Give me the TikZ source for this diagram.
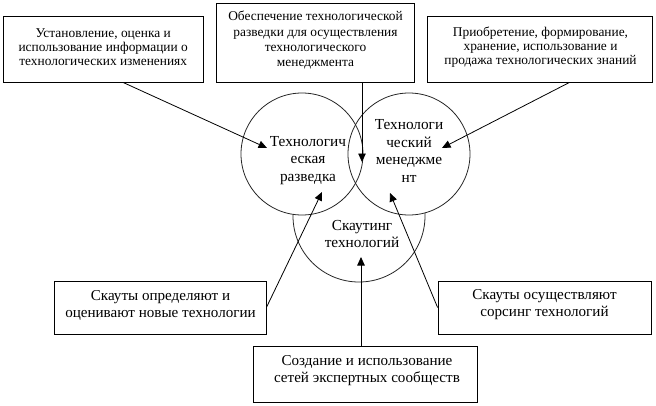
\documentclass[tikz,border=0pt]{standalone}
\usepackage{fontspec}
\setmainfont{Liberation Serif}
\usetikzlibrary{arrows.meta,calc}
\begin{document}
\begin{tikzpicture}[x=1pt,y=-1pt,
  box/.style={draw=black, line width=0.8pt, inner sep=0pt},
  btext/.style={align=center, inner sep=0pt},
  smalltext/.style={font=\fontsize{13.4}{14}\selectfont},
  midtext/.style={font=\fontsize{13.4}{15.3}\selectfont},
  bigtext/.style={font=\fontsize{15.1}{17}\selectfont},
  circ/.style={draw=black!85, line width=0.8pt, circle, inner sep=0pt},
  ctext/.style={align=center, inner sep=0pt, font=\fontsize{15.3}{17.5}\selectfont},
  arr/.style={line width=0.8pt, -{Triangle[length=8.5pt,width=7.5pt]}}]
\useasboundingbox (0,0) rectangle (656,405);

% circles
\node[circ, minimum size=132pt] (cb) at (359,216) {};
\fill[white] (302,154) circle (61);
\fill[white] (409,154) circle (61);
\node[circ, minimum size=122pt] (cl) at (302,154) {};
\node[circ, minimum size=122pt] (cr) at (409,154) {};

\node[ctext] (tl) at (308,160.3) {Технологич\\еская\\разведка};
\node[ctext] (tr) at (409,151) {Технологи\\ческий\\менеджме\\нт};
\node[ctext] (tb) at (362,234) {Скаутинг\\технологий};

% boxes
\node[box, minimum width=200pt, minimum height=66pt] (b1) at (103,49) {};
\node[btext, smalltext] (b1t) at (103.2,47.2)
  {Установление, оценка и\\использование информации о\\технологических изменениях};
\node[box, minimum width=198pt, minimum height=79pt] (b2) at (315,42.5) {};
\node[btext, midtext] (b2t) at (315.5,40.3)
  {Обеспечение технологической\\разведки для осуществления\\технологического\\менеджмента};
\node[box, minimum width=225pt, minimum height=66pt] (b3) at (539.5,49) {};
\node[btext, smalltext] (b3t) at (540.5,47.4)
  {Приобретение, формирование,\\хранение, использование и\\продажа технологических знаний};
\node[box, minimum width=212pt, minimum height=53pt] (b4) at (160,307.5) {};
\node[btext, bigtext] (b4t) at (160.5,305)
  {Скауты определяют и\\оценивают новые технологии};
\node[box, minimum width=213pt, minimum height=53pt] (b5) at (544.5,307.5) {};
\node[btext, bigtext] (b5t) at (544.5,305)
  {Скауты осуществляют\\сорсинг технологий};
\node[box, minimum width=224pt, minimum height=56pt] (b6) at (365,374) {};
\node[btext, bigtext] (b6t) at (367,371)
  {Создание и использование\\сетей экспертных сообществ};

% arrow tips
\coordinate (e1) at (267,148);
\coordinate (e2) at (362,162);
\coordinate (e3) at (442,148);
\coordinate (e4) at (322,192);
\coordinate (e5) at (390,193);
\coordinate (e6) at (361,257);

\draw[arr] ($(b1.south)+(20,0)$) -- (e1);
\draw[arr] (b2.south -| e2) -- (e2);
\draw[arr] ($(b3.south)+(30,0)$) -- (e3);
\draw[arr] (b4.east) -- (e4);
\draw[arr] (b5.west) -- (e5);
\draw[arr] (b6.north -| e6) -- (e6);
\end{tikzpicture}
\end{document}
